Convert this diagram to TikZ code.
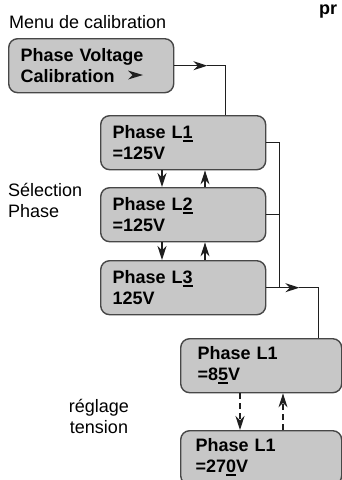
\documentclass[tikz,border=0pt]{standalone}
\usepackage{fontspec}
\setmainfont{Liberation Sans}
\usepackage{xcolor}
\colorlet{colBox}{black!22}
\colorlet{colEdge}{black!72}
\colorlet{colLink}{black!88}
\usetikzlibrary{arrows.meta, positioning}
\newsavebox{\cursbox}
\newcommand{\curs}[1]{\sbox{\cursbox}{#1}\rlap{\rule[-3.5pt]{\wd\cursbox}{2pt}}\usebox{\cursbox}}

\begin{document}
\begin{tikzpicture}[x=1pt, y=-1pt,
    menubox/.style={draw=colEdge, fill=colBox, line width=1.4pt, rounded corners=9pt,
      anchor=north west, minimum height=54pt, text width=141pt, inner xsep=12pt,
      align=left, font=\fontsize{18}{21}\selectfont\bfseries},
    caption/.style={inner sep=0pt, font=\fontsize{18}{21}\selectfont},
    link/.style={line width=1.2pt, draw=colLink},
    tip/.style={-{Stealth[length=14pt, width=9pt, inset=4.5pt]}}]
  \useasboundingbox (0,0) rectangle (342,480);
  % titles
  \node[caption, anchor=base west] (menu) at (9,28) {Menu de calibration};
  \node[caption, anchor=base west, font=\fontsize{18}{21}\selectfont\bfseries] (head) at (319,14) {pr};
  \node[caption, anchor=base west, align=left] (selphase) at (8,217) {Sélection\\Phase};
  \node[caption, anchor=base, align=center] (regtens) at (99,433) {réglage\\tension};
  % menu boxes
  \node[menubox] (pvc) at (8,38) {Phase Voltage\\Calibration};
  \fill[colLink] (143,75) -- (128,70.5) -- (132.5,75) -- (128,79.5) -- cycle;
  \node[menubox] (l1) at (100,115) {Phase L\curs{1}\\=125V};
  \node[menubox] (l2) at (100,187) {Phase L\curs{2}\\=125V};
  \node[menubox] (l3) at (100,260) {Phase L\curs{3}\\125V};
  \node[menubox, text width=127pt, inner xsep=17pt] (v85) at (180,338) {Phase L1\\=8\curs{5}V};
  \node[menubox, text width=131pt, inner xsep=15pt] (v270) at (180,430) {Phase L1\\=27\curs{0}V};
  % connectors
  \coordinate (t1) at ([xshift=33pt]pvc.east);
  \coordinate (k1) at ([xshift=51pt]pvc.east);
  \draw[link, tip] (pvc.east) -- (t1);
  \draw[link] (t1) -- (k1) -- (k1 |- l1.north);
  \foreach \a/\b in {l1/l2, l2/l3} {
    \draw[link, tip] ([xshift=62pt]\a.south west) -- ([xshift=62pt]\b.north west);
    \draw[link, tip] ([xshift=105pt]\b.north west) -- ([xshift=105pt]\a.south west);
  }
  \coordinate (bus) at ([xshift=13pt]l1.east);
  \draw[link] (l1.east) -- (bus) -- (bus |- l3.east);
  \draw[link] (l2.east) -- (l2.east -| bus);
  \coordinate (t3) at ([xshift=33pt]l3.east);
  \coordinate (k3) at ([xshift=52pt]l3.east);
  \draw[link, tip] (l3.east) -- (t3);
  \draw[link] (t3) -- (k3) -- (k3 |- v85.north);
  \draw[link, tip, dash pattern=on 6pt off 4pt] ([xshift=60pt]v85.south west) -- ([xshift=60pt]v270.north west);
  \draw[link, tip, dash pattern=on 6pt off 4pt] ([xshift=103pt]v270.north west) -- ([xshift=103pt]v85.south west);
\end{tikzpicture}
\end{document}
